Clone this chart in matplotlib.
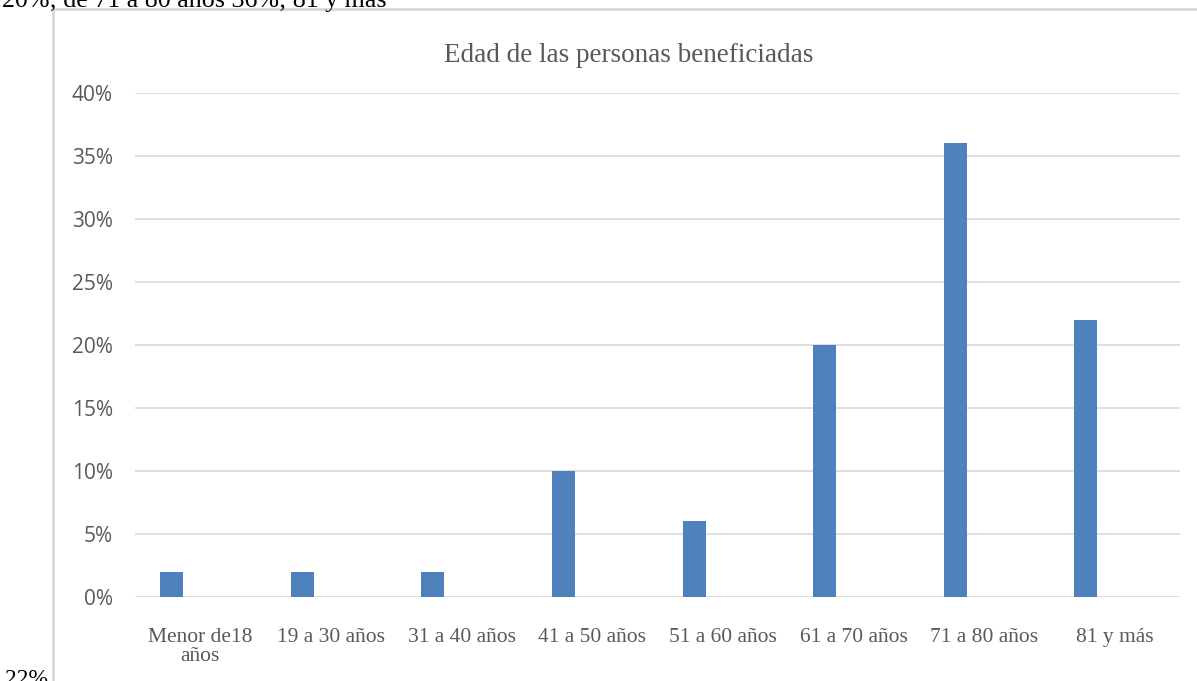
import numpy as np
import matplotlib
matplotlib.use("Agg")
import matplotlib.pyplot as plt
from matplotlib.ticker import FuncFormatter
from matplotlib.lines import Line2D

# ============================================================
# Datos
# ============================================================
categorias = ["Menor de18\naños", "19 a 30 años", "31 a 40 años", "41 a 50 años",
              "51 a 60 años", "61 a 70 años", "71 a 80 años", "81 y más"]
porcentajes = [2, 2, 2, 10, 6, 20, 36, 22]
ticks_y = [0, 5, 10, 15, 20, 25, 30, 35, 40]

titulo = "Edad de las personas beneficiadas"
texto_arriba = "20%; de 71 a 80 años 36%; 81 y más"
texto_abajo = "22%"

W, H = 1197, 681
gris = "#595959"
azul = "#4F81BD"
serif = ["Liberation Serif", "DejaVu Serif"]

fig = plt.figure(figsize=(W / 100, H / 100), dpi=100)
ax = fig.add_axes([135 / W, 1 - 597 / H, (1180 - 135) / W, (597 - 93) / H])

x = np.arange(len(categorias))
# barras desplazadas a la izquierda como en el original (serie agrupada)
ax.bar(x - 0.22, porcentajes, width=0.176, color=azul, zorder=3)

ax.set_xlim(-0.5, len(categorias) - 0.5)
ax.set_ylim(0, 40)
ax.set_yticks(ticks_y)
ax.yaxis.set_major_formatter(FuncFormatter(lambda v, p: f"{v:.0f}%"))
ax.grid(axis="y", color="#D9D9D9", linewidth=1.2, zorder=0)
for s in ax.spines.values():
    s.set_visible(False)

ax.set_xticks(x)
ax.set_xticklabels(categorias, fontfamily=serif, fontsize=15.5, color=gris, linespacing=1.05)
ax.tick_params(axis="x", length=0, pad=22)
ax.tick_params(axis="y", length=0, pad=16, labelsize=15, labelcolor=gris)
for lab in ax.get_yticklabels():
    lab.set_fontfamily(["Open Sans", "DejaVu Sans"])

# título del gráfico
fig.text(629 / W, 1 - 62 / H, titulo, ha="center", va="baseline",
         fontfamily=serif, fontsize=19.5, color=gris)

# borde del cuadro del gráfico
fig.add_artist(Line2D([53 / W, 53 / W], [0, 1 - 9 / H], color="#D4D4D4", linewidth=1.8))
fig.add_artist(Line2D([53 / W, 1], [1 - 9 / H, 1 - 9 / H], color="#D4D4D4", linewidth=1.8))

# texto del documento alrededor
fig.text(2 / W, 1 - 7 / H, texto_arriba, ha="left", va="baseline",
         fontfamily=serif, fontsize=18.7, color="black")
fig.text(5 / W, 1 - 685 / H, texto_abajo, ha="left", va="baseline",
         fontfamily=serif, fontsize=17, color="black")

fig.savefig("out.png", dpi=100)
